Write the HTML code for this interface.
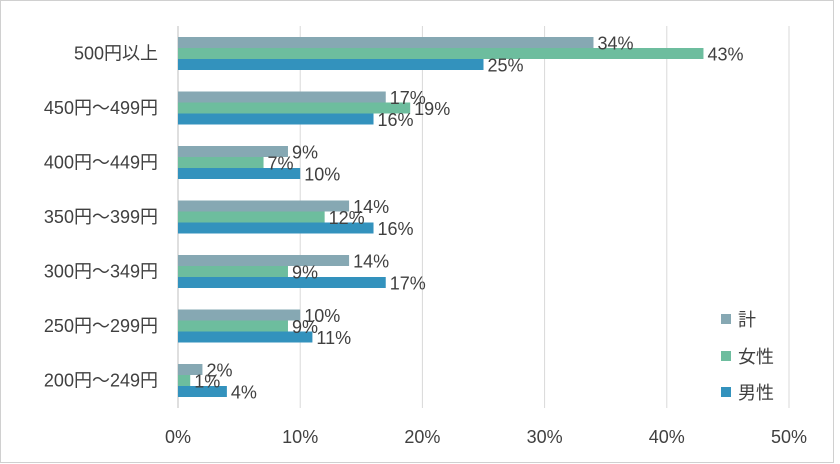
<!DOCTYPE html>
<html><head><meta charset="utf-8"><style>
body{margin:0;background:#fff}
svg{display:block;font-family:"Liberation Sans","Noto Sans CJK JP",sans-serif}
</style></head><body>
<svg width="840" height="464">
<rect x="0.5" y="0.5" width="833" height="462" fill="#fff" stroke="#d0d0d0"/>
<g id="grid"></g><g id="bars"></g><g id="labels"></g><g id="axis"></g>
<g>
<rect x="721" y="314" width="10" height="10" fill="#86a8b3"/>
<text x="738" y="326" font-size="18" fill="#404040">計</text>
<rect x="721" y="351" width="10" height="10" fill="#6dbd9e"/>
<text x="738" y="363" font-size="18" fill="#404040">女性</text>
<rect x="721" y="387" width="10" height="10" fill="#3392bd"/>
<text x="738" y="399" font-size="18" fill="#404040">男性</text>
</g>
</svg>
<script>
const categories=["500円以上","450円～499円","400円～449円","350円～399円","300円～349円","250円～299円","200円～249円"];
const total=[34,17,9,14,14,10,2];
const female=[43,19,7,12,9,9,1];
const male=[25,16,10,16,17,11,4];
const ticks=[0,10,20,30,40,50];
const seriesNames=["total","female","male"];
const colors=["#86a8b3","#6dbd9e","#3392bd"];
const NS="http://www.w3.org/2000/svg";
const x0=178,pxPer=12.22,top0=37,step=54.5,barH=11;
function xs(v){return x0+v*pxPer;}
function mk(t,a,p){const e=document.createElementNS(NS,t);for(const k in a)e.setAttribute(k,a[k]);p.appendChild(e);return e;}
const grid=document.getElementById('grid'),bars=document.getElementById('bars'),labels=document.getElementById('labels'),axis=document.getElementById('axis');
ticks.forEach(t=>{
 const l=mk('line',{x1:xs(t),x2:xs(t),y1:26,y2:408,stroke:t===0?'#bfbfbf':'#d9d9d9'},grid);
 
 
 const tx=mk('text',{x:xs(t),y:443,'font-size':18,fill:'#404040','text-anchor':'middle'},axis);
 tx.textContent=t+'%';
 
 
});
const series=[total,female,male];
categories.forEach((c,i)=>{
 const gt=top0+i*step;
 const ct=mk('text',{x:158,y:gt+barH*1.5+6,'font-size':18,fill:'#404040','text-anchor':'end'},axis);
 ct.textContent=c;
 
 
 series.forEach((s,j)=>{
  const y=gt+j*barH;
  const r=mk('rect',{x:x0,y:y,width:xs(s[i])-x0,height:barH,fill:colors[j]},bars);
  
  
  const lb=mk('text',{x:xs(s[i])+4,y:y+barH/2+7,'font-size':18,fill:'#404040'},labels);
  lb.textContent=s[i]+'%';
  
  
 });
});
</script>
</body></html>
